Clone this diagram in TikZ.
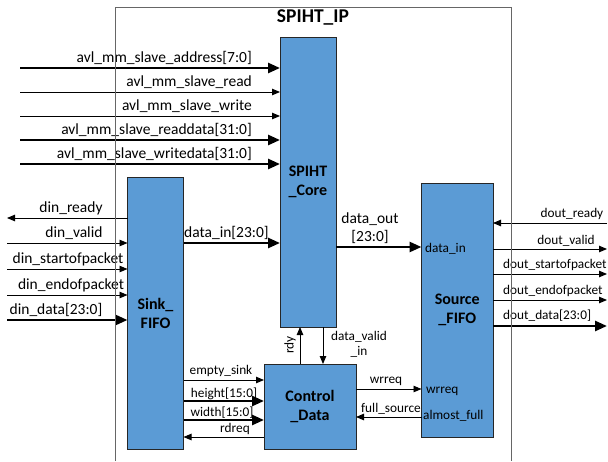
\documentclass[tikz,border=0pt]{standalone}
\usepackage{fontspec}
\setmainfont{Carlito}
\usetikzlibrary{arrows.meta}
\definecolor{ipblue}{HTML}{5B9BD5}
\tikzset{
  block/.style={draw=black!85, line width=1pt, fill=ipblue, inner sep=0pt, outer sep=0pt,
    font=\fontsize{16}{19}\selectfont\bfseries, align=center},
  sig/.style={line width=0.9pt, -{Triangle[length=8pt,width=6.5pt]}},
  bus/.style={line width=2.6pt, -{Triangle[length=12pt,width=10pt]}},
  lbl/.style={inner sep=1pt, font=\fontsize{15.5}{18}\selectfont},
  slbl/.style={inner sep=1pt, font=\fontsize{13.3}{15}\selectfont},
}
\begin{document}
\begin{tikzpicture}[x=1pt,y=-1pt]
\useasboundingbox (0,0) rectangle (608,461);

% blocks
\node[block, minimum width=56pt, minimum height=290pt] (core) at (308,182) {SPIHT\\\_Core};
\node[block, minimum width=56pt, minimum height=272pt] (sink) at (155.5,313) {Sink\_\\FIFO};
\node[block, minimum width=71.5pt, minimum height=254pt] (source) at (457.25,310) {Source\\\_FIFO};
\node[block, minimum width=92pt, minimum height=85pt] (ctrl) at (310,406.5) {Control\\\_Data};
\node[font=\fontsize{19.5}{22}\selectfont\bfseries] (title) at (313,17) {SPIHT\_IP};

% avalon slave inputs
\coordinate (addr) at (20,68);
\coordinate (rd) at (20,92);
\coordinate (wr) at (20,116);
\coordinate (rdata) at (20,140);
\coordinate (wdata) at (20,164);
\draw[bus] (addr) -- (addr -| core.west);
\draw[sig] (rd) -- (rd -| core.west);
\draw[sig] (wr) -- (wr -| core.west);
\draw[bus] (rdata) -- (rdata -| core.west);
\draw[bus] (wdata) -- (wdata -| core.west);
\node[lbl, anchor=south east] (addrlbl) at (253,66) {avl\_mm\_slave\_address[7:0]};
\node[lbl, anchor=south east] (rdlbl) at (253,90) {avl\_mm\_slave\_read};
\node[lbl, anchor=south east] (wrlbl) at (253,114) {avl\_mm\_slave\_write};
\node[lbl, anchor=south east] (rdatalbl) at (253,138) {avl\_mm\_slave\_readdata[31:0]};
\node[lbl, anchor=south east] (wdatalbl) at (253,162) {avl\_mm\_slave\_writedata[31:0]};

% sink side stream
\coordinate (dinrdy) at (7,218);
\coordinate (dinval) at (7,243);
\coordinate (dinsop) at (7,269);
\coordinate (dineop) at (7,295);
\coordinate (dindat) at (7,320);
\draw[sig] (dinrdy -| sink.west) -- (dinrdy);
\draw[sig] (dinval) -- (dinval -| sink.west);
\draw[sig] (dinsop) -- (dinsop -| sink.west);
\draw[sig] (dineop) -- (dineop -| sink.west);
\draw[bus] (dindat) -- (dindat -| sink.west);
\node[lbl, anchor=south] (dinrdylbl) at (71,216) {din\_ready};
\node[lbl, anchor=south] (dinvallbl) at (74,241) {din\_valid};
\node[lbl, anchor=south] (dinsoplbl) at (68,267) {din\_startofpacket};
\node[lbl, anchor=south] (dineoplbl) at (71,293) {din\_endofpacket};
\node[lbl, anchor=south] (dindatlbl) at (56,318) {din\_data[23:0]};

% data path
\coordinate (din) at (sink.east |- 0,243);
\coordinate (dout) at (core.east |- 0,247);
\draw[bus] (din) -- (din -| core.west);
\draw[bus] (dout) -- (dout -| source.west);
\node[lbl, anchor=south west] (dinlbl) at (183,241) {data\_in[23:0]};
\node[lbl, anchor=south, align=center] (doutlbl) at (370,245) {data\_out\\{}[23:0]};
\node[slbl, anchor=west] (srcin) at (424,249) {data\_in};

% source side stream
\coordinate (doutrdy) at (607,223);
\coordinate (doutval) at (607,249);
\coordinate (doutsop) at (607,274);
\coordinate (douteop) at (607,300);
\coordinate (doutdat) at (607,326);
\draw[sig] (doutrdy) -- (doutrdy -| source.east);
\draw[sig] (doutval -| source.east) -- (doutval);
\draw[sig] (doutsop -| source.east) -- (doutsop);
\draw[sig] (douteop -| source.east) -- (douteop);
\draw[bus] (doutdat -| source.east) -- (doutdat);
\node[slbl, anchor=south] (doutrdylbl) at (572,221) {dout\_ready};
\node[slbl, anchor=south] (doutvallbl) at (566,247) {dout\_valid};
\node[slbl, anchor=south west] (doutsoplbl) at (502,272) {dout\_startofpacket};
\node[slbl, anchor=south west] (douteoplbl) at (502,298) {dout\_endofpacket};
\node[slbl, anchor=south west] (doutdatlbl) at (502,323) {dout\_data[23:0]};

% control
\coordinate (rdy) at (ctrl.north -| 300,0);
\coordinate (dvin) at (core.south -| 323,0);
\draw[sig] (rdy) -- (rdy |- core.south);
\draw[sig] (dvin) -- (dvin |- ctrl.north);
\node[slbl, rotate=90] (rdylbl) at (290,345) {rdy};
\node[slbl, anchor=north, align=center] (dvinlbl) at (359,330) {data\_valid\\\_in};

\coordinate (empty) at (sink.east |- 0,380);
\coordinate (hgt) at (sink.east |- 0,401);
\coordinate (wdt) at (sink.east |- 0,420);
\coordinate (rdreq) at (sink.east |- 0,437);
\draw[sig] (empty) -- (empty -| ctrl.west);
\draw[bus] (hgt) -- (hgt -| ctrl.west);
\draw[bus] (wdt) -- (wdt -| ctrl.west);
\draw[sig] (rdreq -| ctrl.west) -- (rdreq);
\node[slbl, anchor=south] (emptylbl) at (221,378) {empty\_sink};
\node[slbl, anchor=south] (hgtlbl) at (224,401) {height[15:0]};
\node[slbl, anchor=south] (wdtlbl) at (222,420) {width[15:0]};
\node[slbl, anchor=south] (rdreqlbl) at (235,436) {rdreq};

\coordinate (wrreq) at (ctrl.east |- 0,389);
\coordinate (full) at (source.west |- 0,417);
\draw[sig] (wrreq) -- (wrreq -| source.west);
\draw[sig] (full) -- (full -| ctrl.east);
\node[slbl, anchor=south] (wrreqlbl) at (386,387) {wrreq};
\node[slbl, anchor=south] (fulllbl) at (391,415) {full\_source};
\node[slbl, anchor=west] (srcwr) at (425,391) {wrreq};
\node[slbl, anchor=west] (srcfull) at (422,416) {almost\_full};

% outer frame
\draw[black!60, line width=0.9pt] (115.5,461) -- (115.5,7) -- (511.7,7) -- (511.7,461);
\end{tikzpicture}
\end{document}
